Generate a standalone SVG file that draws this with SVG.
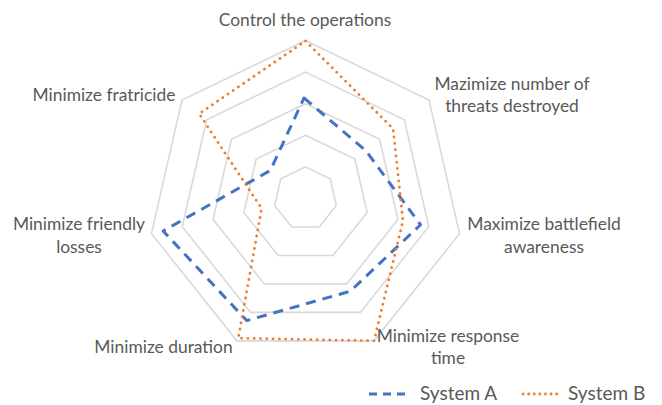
<svg xmlns="http://www.w3.org/2000/svg" width="662" height="405" viewBox="0 0 662 405">
<style>
.grid{fill:none;stroke:#d9d9d9;stroke-width:1.6;stroke-linejoin:miter}
.sa{fill:none;stroke:#4472c4;stroke-width:3;stroke-dasharray:10 7;stroke-linejoin:round}
.sb{fill:none;stroke:#ed7d31;stroke-width:2.8;stroke-dasharray:0.1 6.2;stroke-linecap:round;stroke-linejoin:round}
.lbl{font-family:Lato,"Liberation Sans",sans-serif;font-size:17.4px;fill:#595959;text-anchor:middle}
.leg{font-family:Lato,"Liberation Sans",sans-serif;font-size:19px;fill:#595959}
</style>
<rect width="662" height="405" fill="#ffffff"/>
<g id="grid" transform="translate(305.5 198.5)">
<polygon class="grid" points="0,-158 123.53,-98.51 154.04,35.16 68.55,142.35 -68.55,142.35 -154.04,35.16 -123.53,-98.51"/>
<polygon class="grid" points="0,-126.4 98.82,-78.81 123.23,28.13 54.84,113.88 -54.84,113.88 -123.23,28.13 -98.82,-78.81"/>
<polygon class="grid" points="0,-94.8 74.12,-59.11 92.42,21.1 41.13,85.41 -41.13,85.41 -92.42,21.1 -74.12,-59.11"/>
<polygon class="grid" points="0,-63.2 49.41,-39.4 61.62,14.06 27.42,56.94 -27.42,56.94 -61.62,14.06 -49.41,-39.4"/>
<polygon class="grid" points="0,-31.6 24.71,-19.7 30.81,7.03 13.71,28.47 -13.71,28.47 -30.81,7.03 -24.71,-19.7"/>
</g>
<g id="series" transform="translate(305.5 198.5)">
<polygon id="systemA" class="sa" points="-1.5,-100.5 60.2,-48.01 115.04,26.26 44.69,92.8 -58.79,122.08 -142.34,32.49 -35.18,-28.06"/>
<polygon id="systemB" class="sb" points="0,-157.5 87.56,-69.83 97.49,22.25 68.55,142.35 -67.25,139.65 -43.87,10.01 -106.33,-84.79"/>
</g>
<g id="labels">
<g id="ax-control"><text class="lbl" x="305" y="25.5">Control the operations</text></g>
<g id="ax-threats"><text class="lbl" x="512" y="90">Mazimize number of</text><text class="lbl" x="512" y="112">threats destroyed</text></g>
<g id="ax-awareness"><text class="lbl" x="544" y="230">Maximize battlefield</text><text class="lbl" x="544" y="252.5">awareness</text></g>
<g id="ax-response"><text class="lbl" x="448" y="341.5">Minimize response</text><text class="lbl" x="448" y="363.5">time</text></g>
<g id="ax-duration"><text class="lbl" x="163.5" y="352.5">Minimize duration</text></g>
<g id="ax-losses"><text class="lbl" x="79" y="230">Minimize friendly</text><text class="lbl" x="79" y="252.5">losses</text></g>
<g id="ax-fratricide"><text class="lbl" x="104" y="100.5">Minimize fratricide</text></g>
</g>
<g id="legend">
<line class="sa" x1="369" y1="394" x2="407" y2="394" style="stroke-dasharray:8 6"/>
<text class="leg" x="420" y="399.5">System A</text>
<line class="sb" x1="523" y1="394" x2="561" y2="394" style="stroke-dasharray:0.1 5.5"/>
<text class="leg" x="568" y="399.5">System B</text>
</g>
</svg>
